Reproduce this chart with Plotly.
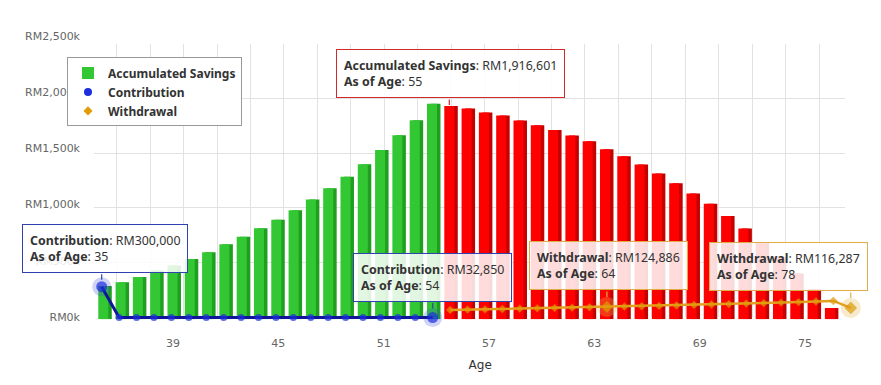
import plotly.graph_objects as go

# page is shown with the browser's default 8px body margin
OX, OY = 8, 8
FW, FH = 865, 369

# ---------------- data ----------------
ages = list(range(35, 79))
savings = [299000, 334000, 380000, 438000, 483000, 542000, 602000, 674000, 741000, 819000,
           894000, 981000, 1076000, 1177000, 1281000, 1393000, 1521000, 1653000, 1789000, 1937000,
           1916601, 1893000, 1859000, 1830000, 1787000, 1743000, 1700000, 1651000, 1599000, 1527000,
           1466000, 1391000, 1310000, 1223000, 1131000, 1038000, 929000, 816000, 689000, 559000,
           412000, 270000, 102000, 0]
retire_age = 55

contrib_ages = list(range(35, 55))
contributions = [300000, 32850, 32850, 32850, 32850, 32850, 32850, 32850, 32850, 32850,
                 32850, 32850, 32850, 32850, 32850, 32850, 32850, 32850, 32850, 32850]

withdraw_ages = list(range(55, 79))
withdrawals = [99000, 102000, 104000, 107000, 110000, 113000, 116000, 119000, 122000, 124886,
               128000, 131000, 134000, 138000, 142000, 146000, 150000, 154000, 158000, 163000,
               167000, 172000, 177000, 116287]

y_tickvals = [0, 500000, 1000000, 1500000, 2000000, 2500000]
y_ticktext = ["RM0k", "RM500k", "RM1,000k", "RM1,500k", "RM2,000k", "RM2,500k"]
x_tickvals = [39, 45, 51, 57, 63, 69, 75]

contrib_highlight = [35, 54]
withdraw_highlight = [64, 78]
tooltips = [("Accumulated Savings", 55), ("Contribution", 35), ("Contribution", 54),
            ("Withdrawal", 64), ("Withdrawal", 78)]

# ---------------- style ----------------
GREEN, GREEN_SIDE = "#33c733", "#1f9f1f"
RED, RED_SIDE = "#ff0000", "#c40000"
C_LINE, C_MARK = "#10169a", "#1c2ede"
W_LINE, W_MARK = "#e6a020", "#e09c06"
GRID = "#e2e2e2"
FONT = "DejaVu Sans"
TFONT = "Noto Sans"


def fx(p):
    return (p - OX) / FW


def fy(p):
    return (FH - (p - OY)) / FH


fig = go.Figure()

# grid subplot (back wall)
fig.add_trace(go.Scatter(x=[None], y=[None], xaxis="x", yaxis="y", showlegend=False, hoverinfo="skip"))

# bars (with a darker side face for the 3D look)
side_colors = [GREEN_SIDE if a < retire_age else RED_SIDE for a in ages]
front_colors = [GREEN if a < retire_age else RED for a in ages]
fig.add_trace(go.Bar(x=ages, y=savings, xaxis="x2", yaxis="y2", width=0.58, offset=-0.09,
                     marker=dict(color=side_colors, line=dict(width=0)),
                     showlegend=False, hoverinfo="skip"))
fig.add_trace(go.Bar(x=ages, y=savings, xaxis="x2", yaxis="y2", width=0.58, offset=-0.29,
                     marker=dict(color=front_colors, line=dict(width=0)),
                     name="Accumulated Savings", hoverinfo="skip"))

# legend proxies (marker only)
fig.add_trace(go.Scatter(x=[None], y=[None], xaxis="x3", yaxis="y3", mode="markers",
                         marker=dict(symbol="circle", size=8, color=C_MARK), name="Contribution"))
fig.add_trace(go.Scatter(x=[None], y=[None], xaxis="x3", yaxis="y3", mode="markers",
                         marker=dict(symbol="diamond", size=7, color=W_MARK), name="Withdrawal"))

# halos of highlighted points
ch = [(a, v) for a, v in zip(contrib_ages, contributions) if a in contrib_highlight]
wh = [(a, v) for a, v in zip(withdraw_ages, withdrawals) if a in withdraw_highlight]
fig.add_trace(go.Scatter(x=[a for a, _ in ch], y=[v for _, v in ch], xaxis="x3", yaxis="y3",
                         mode="markers", marker=dict(size=19, color="rgba(60,80,225,0.25)"),
                         showlegend=False, hoverinfo="skip", cliponaxis=False))
fig.add_trace(go.Scatter(x=[a for a, _ in wh], y=[v for _, v in wh], xaxis="x3", yaxis="y3",
                         mode="markers", marker=dict(size=20, color="rgba(228,185,80,0.30)"),
                         showlegend=False, hoverinfo="skip", cliponaxis=False))

# lines
fig.add_trace(go.Scatter(x=contrib_ages, y=contributions, xaxis="x3", yaxis="y3", mode="lines+markers",
                         line=dict(color=C_LINE, width=3),
                         marker=dict(symbol="circle", color=C_MARK,
                                     size=[11 if a in contrib_highlight else 7 for a in contrib_ages],
                                     line=dict(width=0)),
                         showlegend=False, hoverinfo="skip", cliponaxis=False))
fig.add_trace(go.Scatter(x=withdraw_ages, y=withdrawals, xaxis="x3", yaxis="y3", mode="lines+markers",
                         line=dict(color=W_LINE, width=2.5),
                         marker=dict(symbol="diamond", color=W_MARK,
                                     size=[9 if a in withdraw_highlight else 6 for a in withdraw_ages],
                                     line=dict(width=0.6, color="#c88a00")),
                         showlegend=False, hoverinfo="skip", cliponaxis=False))

# label subplot
fig.add_trace(go.Scatter(x=[None], y=[None], xaxis="x4", yaxis="y4", showlegend=False, hoverinfo="skip"))

# ---------------- tooltips ----------------
series = {
    "Accumulated Savings": (ages, savings, "x2", "y2", "#d02a2a"),
    "Contribution": (contrib_ages, contributions, "x3", "y3", "#3042b0"),
    "Withdrawal": (withdraw_ages, withdrawals, "x3", "y3", "#e0ac48"),
}
tip_shift = {("Accumulated Savings", 55): (1, 8), ("Contribution", 35): (3, 14),
             ("Contribution", 54): (0, 16), ("Withdrawal", 64): (2, 17), ("Withdrawal", 78): (-62, 17)}
annotations = []
for name, age in tooltips:
    xs, ys, xr, yr, col = series[name]
    val = ys[xs.index(age)]
    dx, dy = tip_shift[(name, age)]
    annotations.append(dict(
        x=age, y=val, xref=xr, yref=yr, showarrow=False, xanchor="center", yanchor="bottom",
        xshift=dx, yshift=dy, align="left",
        text=f"<b>{name}</b>: RM{val:,}<br><b>As of Age</b>: {age}",
        font=dict(family=TFONT, size=12.4, color="#333333"),
        bgcolor="rgba(255,255,255,0.86)", bordercolor=col, borderwidth=1, borderpad=7))
    annotations.append(dict(
        x=age, y=val, xref=xr, yref=yr, showarrow=True, text="", arrowhead=0, arrowwidth=1.2,
        arrowcolor=col, ax=0, ay=-dy, standoff=max(dy - 7, 0)))

fig.update_layout(
    width=FW, height=FH, margin=dict(l=0, r=0, t=0, b=0),
    paper_bgcolor="white", plot_bgcolor="rgba(0,0,0,0)",
    barmode="overlay", showlegend=True,
    font=dict(family=FONT, size=11, color="#666666"),
    annotations=annotations,
    legend=dict(x=fx(67), y=fy(53), xanchor="left", yanchor="top",
                bgcolor="white", bordercolor="#999999", borderwidth=1,
                font=dict(family=TFONT, size=12, color="#333333", weight="bold"),
                itemwidth=30, tracegroupgap=0),
    xaxis=dict(domain=[fx(94), fx(845)], range=[33.143, 78.046], tick0=34.5, dtick=2,
               showgrid=True, gridcolor=GRID, gridwidth=1, showticklabels=False, ticks="",
               zeroline=False, showline=False, anchor="y", fixedrange=True),
    yaxis=dict(domain=[fy(322.4), fy(39)], range=[0, 2500000], dtick=500000,
               showgrid=True, gridcolor=GRID, gridwidth=1, showticklabels=False, ticks="",
               zeroline=False, showline=False, anchor="x", fixedrange=True),
    xaxis2=dict(domain=[fx(94.65), fx(855.85)], range=[34.5, 78.5], visible=False, anchor="y2"),
    yaxis2=dict(domain=[fy(324.5), fy(36)], range=[0, 2500000], visible=False, anchor="x2"),
    xaxis3=dict(domain=[fx(92.99), fx(859.5)], range=[34.5, 78.5], visible=False, anchor="y3"),
    yaxis3=dict(domain=[fy(326.6), fy(27.1)], range=[0, 2500000], visible=False, anchor="x3"),
    xaxis4=dict(domain=[fx(94), fx(866.4)], range=[34.5, 78.5], tickvals=x_tickvals,
                ticks="", showgrid=False, zeroline=False, showline=False,
                anchor="free", position=fy(341),
                tickfont=dict(family=FONT, size=11, color="#666666"),
                title=dict(text="Age", font=dict(family=FONT, size=12, color="#333333"), standoff=11)),
    yaxis4=dict(domain=[fy(322), fy(31)], range=[0, 2500000], tickvals=y_tickvals, ticktext=y_ticktext,
                ticks="", showgrid=False, zeroline=False, showline=False,
                anchor="free", position=fx(80),
                tickfont=dict(family=FONT, size=11, color="#666666")),
)

fig.write_html("out.html")
